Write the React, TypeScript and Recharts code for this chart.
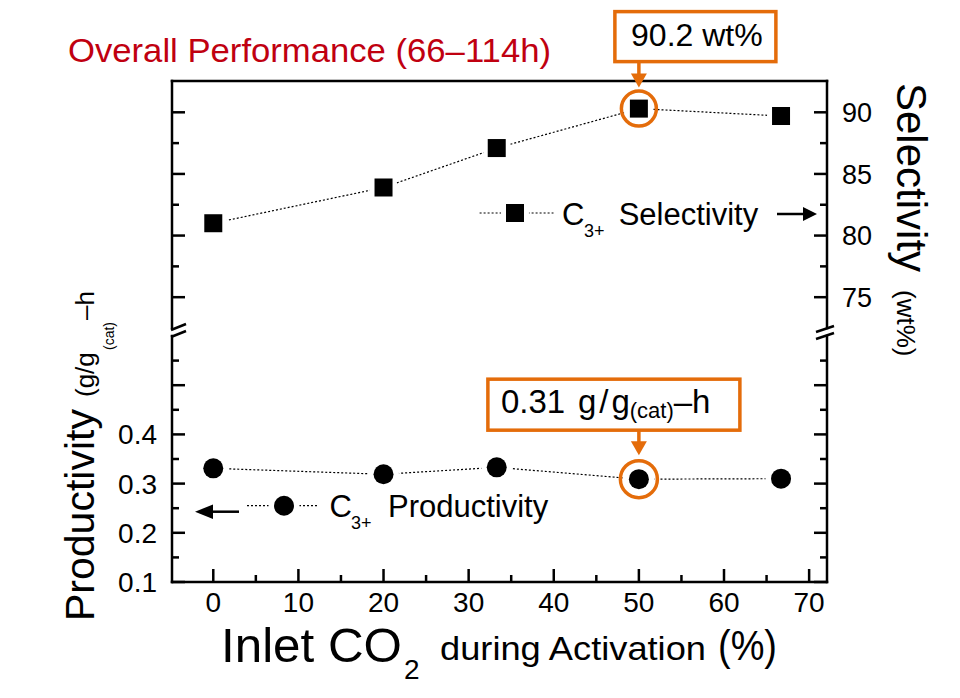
import React from 'react';
import { ComposedChart, Line, XAxis, YAxis, ReferenceDot, Legend } from 'recharts';

// ---------------- data ----------------
const co2Percent = [0, 20, 33.3, 50, 66.7];
const selectivityWt = [81.0, 83.9, 87.1, 90.3, 89.7];
const productivityG = [0.331, 0.319, 0.333, 0.309, 0.31];
const xTicks = [0, 5, 10, 15, 20, 25, 30, 35, 40, 45, 50, 55, 60, 65, 70];
const xTickLabels = [0, 10, 20, 30, 40, 50, 60, 70];
const selTicks = [72.5, 75, 77.5, 80, 82.5, 85, 87.5, 90];
const selTickLabels = [75, 80, 85, 90];
const prodTicks = [0.1, 0.15, 0.2, 0.25, 0.3, 0.35, 0.4, 0.45, 0.5, 0.55, 0.6];
const prodTickLabels = [0.1, 0.2, 0.3, 0.4];
const highlightIndex = 3;
const selCalloutText = '90.2 wt%';
const prodCalloutValue = '0.31';

const X_DOMAIN: [number, number] = [-4.85, 72.1];
const SEL_DOMAIN: [number, number] = [72.5, 92.54];
const PROD_DOMAIN: [number, number] = [0.1, 0.6];

const data = co2Percent.map((c, i) => ({ co2: c, sel: selectivityWt[i], prod: productivityG[i] }));

// ---------------- styles ----------------
const FONT = '"Liberation Sans", Arial, sans-serif';
const ORANGE = '#E46C0A';
const DARK_RED = '#C00010';
const W = 960;
const H = 698;
const AXIS_W = 2.5;

const has = (arr: number[], v: number) => arr.some((a) => Math.abs(a - v) < 1e-6);
const isMultiple = (v: number, step: number) => {
  const r = v / step;
  return Math.abs(r - Math.round(r)) < 1e-6;
};

function makeYTick(
  side: 'left' | 'right',
  labels: number[],
  majorStep: number,
  breakVal: number,
  breakAtTop: boolean,
  fontSize: number,
  digits: number
) {
  return (props: any) => {
    const { x, y, payload, index } = props;
    const v = payload.value as number;
    if (Math.abs(v - breakVal) < 1e-6) {
      const d = breakAtTop ? 1 : 0;
      return side === 'left' ? (
        <line key={`b-${index}`} x1={x - 1} y1={y + 2 - d} x2={x + 14} y2={y - 4 - d} stroke="#000" strokeWidth={AXIS_W} />
      ) : (
        <line key={`b-${index}`} x1={x - 11} y1={y + 4 - d} x2={x + 7} y2={y - 2 - d} stroke="#000" strokeWidth={AXIS_W} />
      );
    }
    const len = isMultiple(v, majorStep) ? 13 : 7;
    const dir = side === 'left' ? 1 : -1;
    return (
      <g key={`t-${index}`}>
        <line x1={x} y1={y} x2={x + dir * len} y2={y} stroke="#000" strokeWidth={AXIS_W} />
        {has(labels, v) && (
          <text
            x={side === 'left' ? x - 15 : x + 15}
            y={y + fontSize * 0.36}
            textAnchor={side === 'left' ? 'end' : 'start'}
            fontSize={fontSize}
            fontFamily={FONT}
            fill="#000"
          >
            {v.toFixed(digits)}
          </text>
        )}
      </g>
    );
  };
}

const XTick = (props: any) => {
  const { x, y, payload, index } = props;
  const v = payload.value as number;
  const major = isMultiple(v, 10);
  return (
    <g key={`x-${index}`}>
      <line x1={x} y1={y} x2={x} y2={y - (major ? 13 : 7)} stroke="#000" strokeWidth={AXIS_W} />
      {has(xTickLabels, v) && (
        <text x={x} y={y + 30} textAnchor="middle" fontSize={28} fontFamily={FONT} fill="#000">
          {v}
        </text>
      )}
    </g>
  );
};

const SquareDot = (props: any) => {
  const { cx, cy, index } = props;
  if (cx == null || cy == null) return <g key={`sq-${index}`} />;
  return (
    <g key={`sq-${index}`}>
      <circle cx={cx} cy={cy} r={14} fill="#fff" />
      <rect x={cx - 9} y={cy - 9} width={18} height={18} fill="#000" />
    </g>
  );
};

const CircleDot = (props: any) => {
  const { cx, cy, index } = props;
  if (cx == null || cy == null) return <g key={`ci-${index}`} />;
  return (
    <g key={`ci-${index}`}>
      <circle cx={cx} cy={cy} r={15.5} fill="#fff" />
      <circle cx={cx} cy={cy} r={10} fill="#000" />
    </g>
  );
};

const SelCallout = (props: any) => {
  const { cx, cy } = props;
  return (
    <g>
      <circle cx={cx} cy={cy} r={17.5} fill="none" stroke={ORANGE} strokeWidth={3.5} />
      <rect x={cx - 24} y={cy - 97} width={161} height={50} fill="#fff" stroke={ORANGE} strokeWidth={3.5} />
      <line x1={cx} y1={cy - 47} x2={cx} y2={cy - 34} stroke={ORANGE} strokeWidth={3.5} />
      <polygon points={`${cx - 8},${cy - 35} ${cx + 8},${cy - 35} ${cx},${cy - 21}`} fill={ORANGE} />
      <text x={cx + 58} y={cy - 63} textAnchor="middle" fontSize={32} fontFamily={FONT} fill="#000">
        {selCalloutText}
      </text>
    </g>
  );
};

const ProdCallout = (props: any) => {
  const { cx, cy } = props;
  return (
    <g>
      <circle cx={cx} cy={cy} r={18.5} fill="none" stroke={ORANGE} strokeWidth={3.5} />
      <rect x={cx - 151} y={cy - 100} width={252} height={51} fill="#fff" stroke={ORANGE} strokeWidth={3.5} />
      <line x1={cx} y1={cy - 49} x2={cx} y2={cy - 37} stroke={ORANGE} strokeWidth={3.5} />
      <polygon points={`${cx - 8},${cy - 38} ${cx + 8},${cy - 38} ${cx},${cy - 24}`} fill={ORANGE} />
      <text y={cy - 66} fontSize={33} fontFamily={FONT} fill="#000">
        <tspan x={cx - 138}>{prodCalloutValue}</tspan>
        <tspan x={cx - 61}>g</tspan>
        <tspan dx={3}>/</tspan>
        <tspan dx={3}>g</tspan>
        <tspan fontSize={22} dy={5}>(cat)</tspan>
        <tspan dy={-5}>–h</tspan>
      </text>
    </g>
  );
};

const TitleLabel = () => (
  <text x={68} y={62} fontSize={34} fontFamily={FONT} fill={DARK_RED} textLength={483} lengthAdjust="spacingAndGlyphs">
    Overall Performance (66–114h)
  </text>
);

const SelTitle = () => (
  <text transform="translate(897,83) rotate(90)" fontFamily={FONT} fill="#000">
    <tspan x={0} y={0} fontSize={42}>Selectivity</tspan>
    <tspan x={207} y={0} fontSize={26}>(wt%)</tspan>
  </text>
);

const ProdTitle = () => (
  <text transform="translate(94,621) rotate(-90)" fontFamily={FONT} fill="#000">
    <tspan x={0} y={0} fontSize={41}>Productivity</tspan>
    <tspan x={224} y={0} fontSize={26}>(g/g</tspan>
    <tspan x={271} y={20} fontSize={14}>(cat)</tspan>
    <tspan x={301} y={0} fontSize={26}>–h</tspan>
  </text>
);

const XTitle = () => (
  <g fontFamily={FONT} fill="#000">
    <text x={221} y={662} fontSize={49} textLength={181} lengthAdjust="spacingAndGlyphs">Inlet CO</text>
    <text x={404} y={679} fontSize={28}>2</text>
    <text x={440} y={660} fontSize={33} textLength={266} lengthAdjust="spacingAndGlyphs">during Activation</text>
    <text x={718} y={660} fontSize={42} textLength={59} lengthAdjust="spacingAndGlyphs">(%)</text>
  </g>
);

const SelLegend = () => (
  <svg width={360} height={50} style={{ overflow: 'visible', display: 'block' }}>
    <line x1={9.6} x2={83.5} y1={23} y2={23} stroke="#000" strokeWidth={1.2} strokeDasharray="2 2" />
    <circle cx={45} cy={23} r={14} fill="#fff" />
    <rect x={36} y={14} width={18} height={18} fill="#000" />
    <text fontFamily={FONT} fill="#000">
      <tspan x={92} y={35} fontSize={31}>C</tspan>
      <tspan x={114} y={46.7} fontSize={18}>3+</tspan>
      <tspan x={148.7} y={35} fontSize={31}>Selectivity</tspan>
    </text>
    <line x1={307} x2={334} y1={24} y2={24} stroke="#000" strokeWidth={2.5} />
    <polygon points="333,17 347,24 333,31" fill="#000" />
  </svg>
);

const ProdLegend = () => (
  <svg width={400} height={60} style={{ overflow: 'visible', display: 'block' }}>
    <line x1={30} x2={59} y1={31.7} y2={31.7} stroke="#000" strokeWidth={2.5} />
    <polygon points="15,31.7 33,24.5 33,38.9" fill="#000" />
    <line x1={67} x2={138.7} y1={25.7} y2={25.7} stroke="#000" strokeWidth={1.2} strokeDasharray="2 2" />
    <circle cx={104} cy={25.7} r={15.5} fill="#fff" />
    <circle cx={104} cy={25.7} r={10} fill="#000" />
    <text fontFamily={FONT} fill="#000">
      <tspan x={149.6} y={36.7} fontSize={31}>C</tspan>
      <tspan x={171} y={49} fontSize={18}>3+</tspan>
      <tspan x={208} y={36.7} fontSize={31}>Productivity</tspan>
    </text>
  </svg>
);

const axisLineStyle = { stroke: '#000', strokeWidth: AXIS_W, strokeLinecap: 'square' as const };

export default function App() {
  return (
    <div style={{ position: 'absolute', left: 0, top: 0, width: W, height: H, background: '#fff', fontFamily: FONT }}>
      {/* Upper panel: selectivity */}
      <div style={{ position: 'absolute', left: 0, top: 0 }}>
        <ComposedChart width={W} height={H} data={data} margin={{ top: 51, right: 73, bottom: 370, left: 112 }}>
          <XAxis
            dataKey="co2"
            type="number"
            orientation="top"
            domain={X_DOMAIN}
            allowDataOverflow
            ticks={xTicks}
            tick={false}
            tickLine={false}
            axisLine={axisLineStyle}
            height={30}
            label={TitleLabel}
          />
          <YAxis
            yAxisId="L"
            orientation="left"
            domain={SEL_DOMAIN}
            allowDataOverflow
            ticks={selTicks}
            interval={0}
            width={60}
            tickSize={0}
            tickMargin={0}
            tickLine={false}
            axisLine={axisLineStyle}
            tick={makeYTick('left', [], 5, 72.5, false, 27, 0)}
          />
          <YAxis
            yAxisId="R"
            orientation="right"
            domain={SEL_DOMAIN}
            allowDataOverflow
            ticks={selTicks}
            interval={0}
            width={60}
            tickSize={0}
            tickMargin={0}
            tickLine={false}
            axisLine={axisLineStyle}
            tick={makeYTick('right', selTickLabels, 5, 72.5, false, 27, 0)}
            label={SelTitle}
          />
          <Line
            yAxisId="R"
            type="linear"
            dataKey="sel"
            stroke="#000"
            strokeWidth={1.2}
            strokeDasharray="2 2"
            dot={SquareDot}
            activeDot={false}
            isAnimationActive={false}
          />
          <ReferenceDot
            yAxisId="R"
            x={co2Percent[highlightIndex]}
            y={selectivityWt[highlightIndex]}
            r={17.5}
            ifOverflow="visible"
            shape={SelCallout}
          />
          <Legend
            layout="horizontal"
            verticalAlign="middle"
            align="center"
            width={360}
            height={50}
            wrapperStyle={{ left: 470, top: 190, width: 360, height: 50 }}
            content={SelLegend}
          />
        </ComposedChart>
      </div>

      {/* Lower panel: productivity */}
      <div style={{ position: 'absolute', left: 0, top: 0 }}>
        <ComposedChart width={W} height={H} data={data} margin={{ top: 336, right: 73, bottom: 86, left: 112 }}>
          <XAxis
            dataKey="co2"
            type="number"
            orientation="bottom"
            domain={X_DOMAIN}
            allowDataOverflow
            ticks={xTicks}
            interval={0}
            height={30}
            tickSize={0}
            tickMargin={0}
            tickLine={false}
            axisLine={axisLineStyle}
            tick={XTick}
            label={XTitle}
          />
          <YAxis
            yAxisId="L"
            orientation="left"
            domain={PROD_DOMAIN}
            allowDataOverflow
            ticks={prodTicks}
            interval={0}
            width={60}
            tickSize={0}
            tickMargin={0}
            tickLine={false}
            axisLine={axisLineStyle}
            tick={makeYTick('left', prodTickLabels, 0.1, 0.6, true, 28, 1)}
            label={ProdTitle}
          />
          <YAxis
            yAxisId="R"
            orientation="right"
            domain={PROD_DOMAIN}
            allowDataOverflow
            ticks={prodTicks}
            interval={0}
            width={60}
            tickSize={0}
            tickMargin={0}
            tickLine={false}
            axisLine={axisLineStyle}
            tick={makeYTick('right', [], 0.1, 0.6, true, 28, 1)}
          />
          <Line
            yAxisId="L"
            type="linear"
            dataKey="prod"
            stroke="#000"
            strokeWidth={1.2}
            strokeDasharray="2 2"
            dot={CircleDot}
            activeDot={false}
            isAnimationActive={false}
          />
          <ReferenceDot
            yAxisId="L"
            x={co2Percent[highlightIndex]}
            y={productivityG[highlightIndex]}
            r={18.5}
            ifOverflow="visible"
            shape={ProdCallout}
          />
          <Legend
            layout="horizontal"
            verticalAlign="middle"
            align="center"
            width={400}
            height={60}
            wrapperStyle={{ left: 180, top: 480, width: 400, height: 60 }}
            content={ProdLegend}
          />
        </ComposedChart>
      </div>
    </div>
  );
}
